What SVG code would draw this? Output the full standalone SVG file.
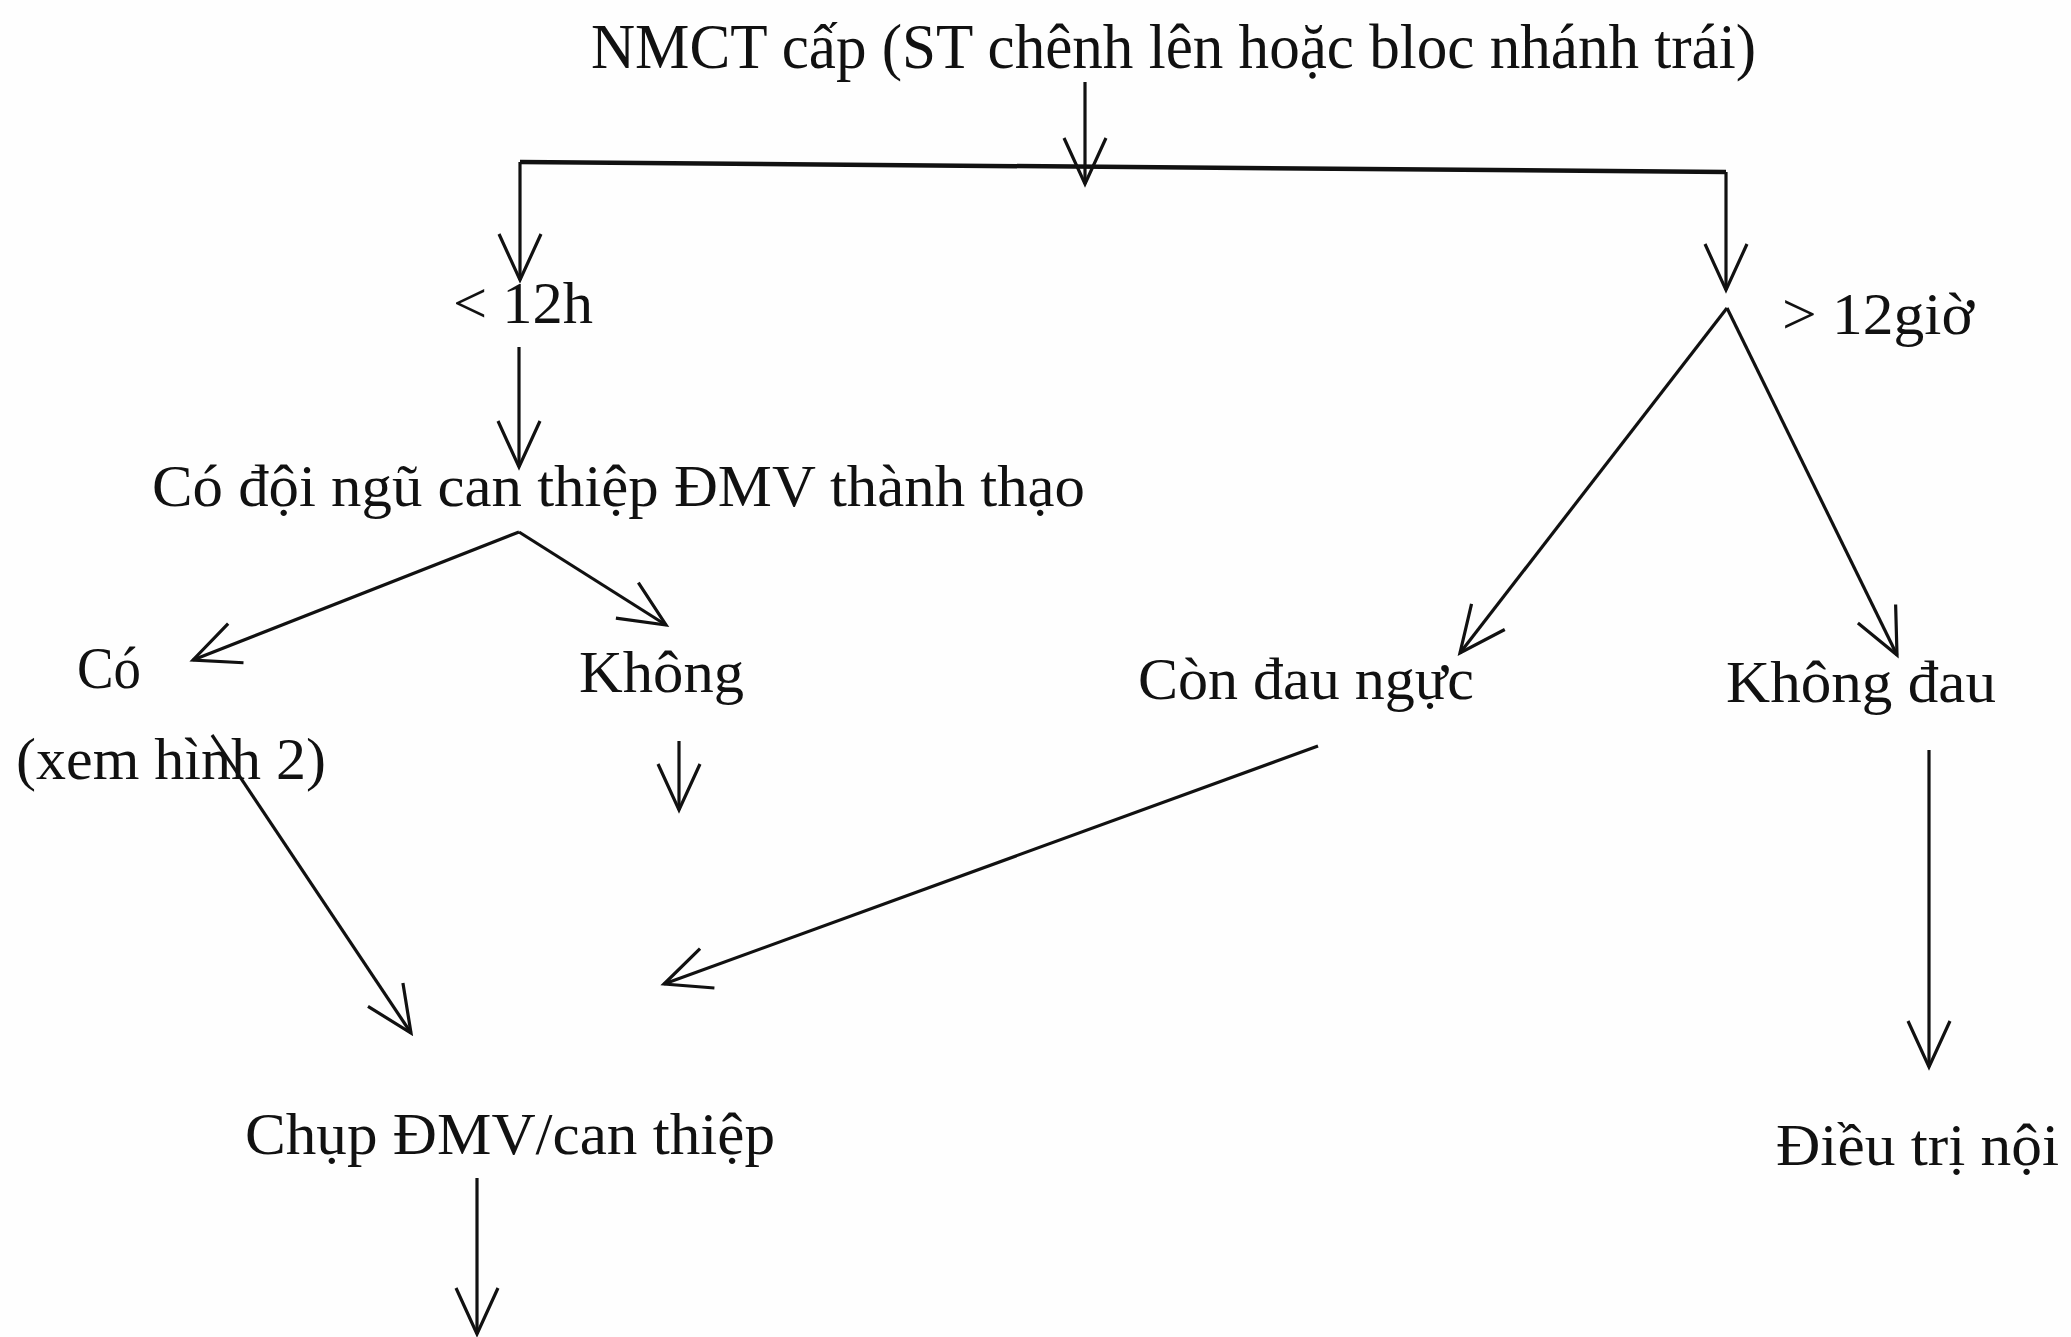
<svg xmlns="http://www.w3.org/2000/svg" width="2071" height="1337" viewBox="0 0 2071 1337">
  <defs>
    <style>
      .lbl { font-family: "Liberation Serif", "Times New Roman", serif; font-size: 60px; fill: #111; }
      .title { font-size: 64px; }
      .edge { stroke: #111; stroke-width: 3.2; fill: none; marker-end: url(#arrow); }
      .bar { stroke: #111; stroke-width: 4.5; fill: none; }
    </style>
    <marker id="arrow" markerUnits="userSpaceOnUse" markerWidth="60" markerHeight="60" viewBox="-50 -30 60 60" refX="0" refY="0" orient="auto">
      <path d="M -46 -21 L 0 0 L -46 21" fill="none" stroke="#111" stroke-width="3.2" stroke-linejoin="miter"/>
    </marker>
  </defs>

  <rect x="0" y="0" width="2071" height="1337" fill="#fefefe"/>

  <g id="connectors">
    <line class="edge" x1="1085" y1="82" x2="1085" y2="184"/>
    <line class="bar" x1="520" y1="162" x2="1726" y2="172"/>
    <line class="edge" x1="520" y1="162" x2="520" y2="280"/>
    <line class="edge" x1="1726" y1="172" x2="1726" y2="290"/>
    <line class="edge" x1="519" y1="347" x2="519" y2="467"/>
    <line class="edge" x1="1727" y1="308" x2="1460" y2="653"/>
    <line class="edge" x1="1727" y1="308" x2="1897" y2="655"/>
    <line class="edge" x1="519" y1="532" x2="193" y2="660"/>
    <line class="edge" x1="519" y1="532" x2="666" y2="625"/>
    <line class="edge" x1="679" y1="741" x2="679" y2="810"/>
    <line class="edge" x1="212" y1="735" x2="411" y2="1033"/>
    <line class="edge" x1="1318" y1="746" x2="664" y2="984"/>
    <line class="edge" x1="477" y1="1178" x2="477" y2="1334"/>
    <line class="edge" x1="1929" y1="750" x2="1929" y2="1067"/>
  </g>

  <g id="n-start">
    <text class="lbl title" x="591" y="68" textLength="1165" lengthAdjust="spacingAndGlyphs">NMCT cấp (ST chênh lên hoặc bloc nhánh trái)</text>
  </g>
  <g id="n-under12">
    <text class="lbl" x="453" y="323" textLength="140" lengthAdjust="spacingAndGlyphs">&lt; 12h</text>
  </g>
  <g id="n-over12">
    <text class="lbl" x="1782" y="334" textLength="192" lengthAdjust="spacingAndGlyphs">&gt; 12giờ</text>
  </g>
  <g id="n-team">
    <text class="lbl" x="152" y="506" textLength="933" lengthAdjust="spacingAndGlyphs">Có đội ngũ can thiệp ĐMV thành thạo</text>
  </g>
  <g id="n-yes">
    <text class="lbl" x="77" y="688" textLength="64" lengthAdjust="spacingAndGlyphs">Có</text>
    <text class="lbl" x="16" y="779" textLength="310" lengthAdjust="spacingAndGlyphs">(xem hình 2)</text>
  </g>
  <g id="n-no">
    <text class="lbl" x="579" y="692" textLength="165" lengthAdjust="spacingAndGlyphs">Không</text>
  </g>
  <g id="n-pain">
    <text class="lbl" x="1138" y="699" textLength="336" lengthAdjust="spacingAndGlyphs">Còn đau ngực</text>
  </g>
  <g id="n-nopain">
    <text class="lbl" x="1726" y="702" textLength="270" lengthAdjust="spacingAndGlyphs">Không đau</text>
  </g>
  <g id="n-angio">
    <text class="lbl" x="245" y="1154" textLength="530" lengthAdjust="spacingAndGlyphs">Chụp ĐMV/can thiệp</text>
  </g>
  <g id="n-medical">
    <text class="lbl" x="1776" y="1165" textLength="283" lengthAdjust="spacingAndGlyphs">Điều trị nội</text>
  </g>
</svg>
